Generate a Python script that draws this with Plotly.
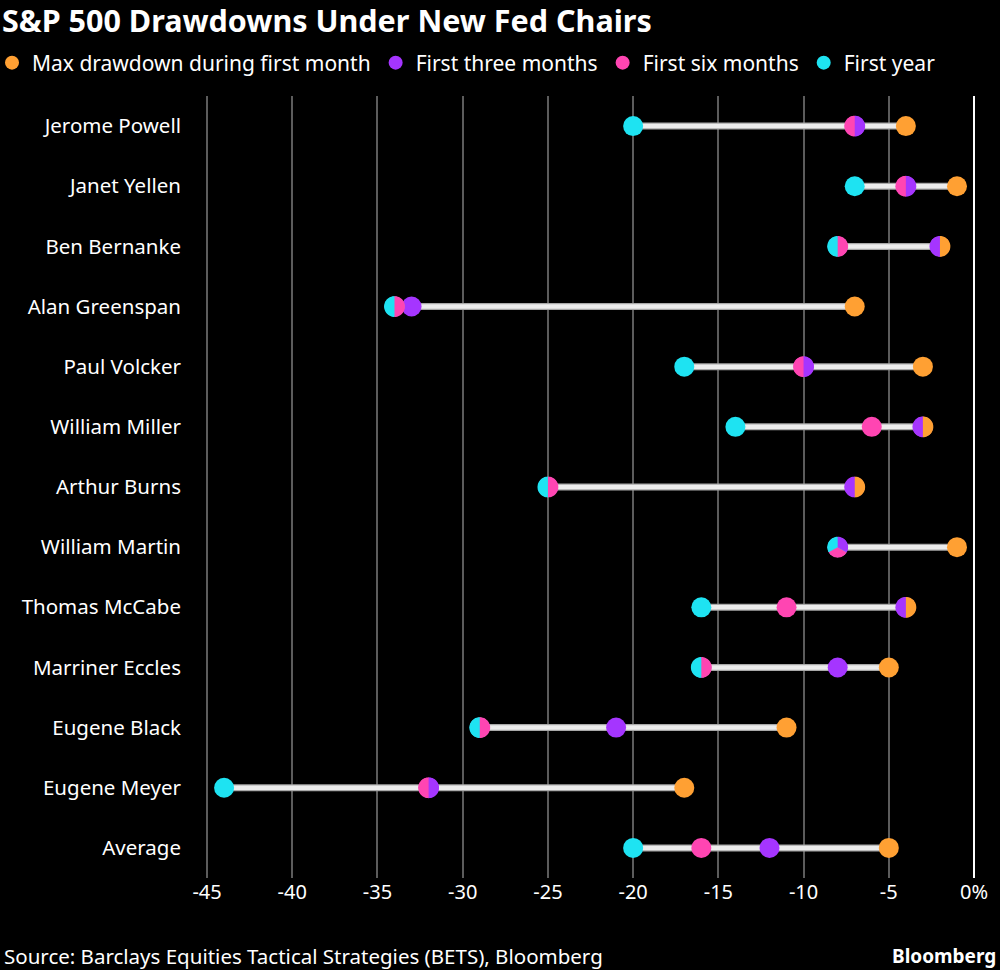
import math
import plotly.graph_objects as go

chairs = ["Jerome Powell", "Janet Yellen", "Ben Bernanke", "Alan Greenspan",
          "Paul Volcker", "William Miller", "Arthur Burns", "William Martin",
          "Thomas McCabe", "Marriner Eccles", "Eugene Black", "Eugene Meyer",
          "Average"]
first_month = [-4, -1, -2, -7, -3, -3, -7, -1, -4, -5, -11, -17, -5]
first_three = [-7, -4, -2, -33, -10, -3, -7, -8, -4, -8, -21, -32, -12]
first_six = [-7, -4, -8, -34, -10, -6, -25, -8, -11, -16, -29, -32, -16]
first_year = [-20, -7, -8, -34, -17, -14, -25, -8, -16, -16, -29, -44, -20]

x_ticks = [-45, -40, -35, -30, -25, -20, -15, -10, -5, 0]
x_tick_text = ["-45", "-40", "-35", "-30", "-25", "-20", "-15", "-10", "-5", "0%"]

# series in order of drawing in split markers (counter-clockwise from top)
series = [
    ("First year", first_year, "#1EE3F2"),
    ("First six months", first_six, "#FF45B2"),
    ("First three months", first_three, "#A535FF"),
    ("Max drawdown during first month", first_month, "#FFA033"),
]
legend_order = ["Max drawdown during first month", "First three months",
                "First six months", "First year"]

FONT = "Noto Sans"
MSIZE = 20

fig = go.Figure()

# connector lines
lx, ly = [], []
for i, name in enumerate(chairs):
    vals = [s[1][i] for s in series]
    lx += [min(vals), max(vals), None]
    ly += [name, name, None]
fig.add_trace(go.Scatter(x=lx, y=ly, mode="lines",
                         line=dict(color="#a8a8a8", width=7),
                         hoverinfo="skip", showlegend=False))
fig.add_trace(go.Scatter(x=lx, y=ly, mode="lines",
                         line=dict(color="#ececec", width=4.5),
                         hoverinfo="skip", showlegend=False))

# markers
col = {n: c for n, _, c in series}
data = {n: v for n, v, _ in series}
for n in legend_order:
    fig.add_trace(go.Scatter(x=data[n], y=chairs, mode="markers", name=n,
                             marker=dict(color=col[n], size=MSIZE,
                                         line=dict(width=0)),
                             showlegend=False))
# legend entries
for n in legend_order:
    fig.add_trace(go.Scatter(x=[None], y=[None], mode="markers", name=n,
                             marker=dict(color=col[n], size=14)))

# split markers for coincident values
shapes = []
R = MSIZE / 2 + 0.4
for i, name in enumerate(chairs):
    groups = {}
    for n, v, c in series:
        groups.setdefault(v[i], []).append(c)
    for val, cols in groups.items():
        k = len(cols)
        if k < 2:
            continue
        for j, c in enumerate(cols):
            a0 = 90 + 360 * j / k
            a1 = 90 + 360 * (j + 1) / k
            pts = []
            steps = 30
            for s in range(steps + 1):
                a = math.radians(a0 + (a1 - a0) * s / steps)
                pts.append(f"{R*math.cos(a):.3f},{R*math.sin(a):.3f}")
            path = "M 0,0 L " + " L ".join(pts) + " Z"
            shapes.append(dict(type="path", xref="x", yref="y",
                               xsizemode="pixel", ysizemode="pixel",
                               xanchor=val, yanchor=name, path=path,
                               fillcolor=c, line=dict(width=0),
                               layer="above"))

fig.update_layout(
    width=1000, height=970,
    paper_bgcolor="black", plot_bgcolor="black",
    margin=dict(l=190, r=20, t=96, b=92, autoexpand=False),
    font=dict(family=FONT, color="white", size=19),
    shapes=shapes,
    title=dict(text="<b>S&P 500 Drawdowns Under New Fed Chairs</b>",
               x=0.002, xref="container", xanchor="left",
               y=1 - 21 / 970, yref="container", yanchor="middle",
               font=dict(family=FONT, size=30.5, color="white")),
    legend=dict(orientation="h", xref="paper", yref="paper",
                x=-198 / 790, xanchor="left", y=1 + 33 / 782,
                yanchor="middle",
                font=dict(family=FONT, size=21, color="white"),
                bgcolor="rgba(0,0,0,0)", itemclick=False,
                traceorder="normal"),
    showlegend=True,
    xaxis=dict(range=[-46.0, 0.35], tickvals=x_ticks, ticktext=x_tick_text,
               showgrid=True, gridcolor="#5c5c5c", gridwidth=1.5,
               zeroline=True, zerolinecolor="white", zerolinewidth=2,
               showline=False, ticks="", fixedrange=True,
               tickfont=dict(size=20, color="white")),
    yaxis=dict(type="category", categoryorder="array", categoryarray=chairs,
               range=[len(chairs) - 0.5, -0.5], autorange=False,
               showgrid=False, zeroline=False, fixedrange=True,
               showline=False, ticks="", ticklabelstandoff=8,
               tickfont=dict(size=20.5, color="white")),
    annotations=[
        dict(text="Source: Barclays Equities Tactical Strategies (BETS), Bloomberg",
             x=0, xref="paper", xanchor="left", xshift=-188,
             y=0, yref="paper", yanchor="middle", yshift=-78,
             showarrow=False, font=dict(family=FONT, size=20.5, color="white")),
        dict(text="<b>Bloomberg</b>",
             x=1, xref="paper", xanchor="right", xshift=18,
             y=0, yref="paper", yanchor="middle", yshift=-78,
             showarrow=False, font=dict(family=FONT, size=19, color="white")),
    ],
)

fig.write_html("out.html",
               config={"displayModeBar": False},
               post_script="document.body.style.margin='0';"
                           "document.body.style.padding='0';")
